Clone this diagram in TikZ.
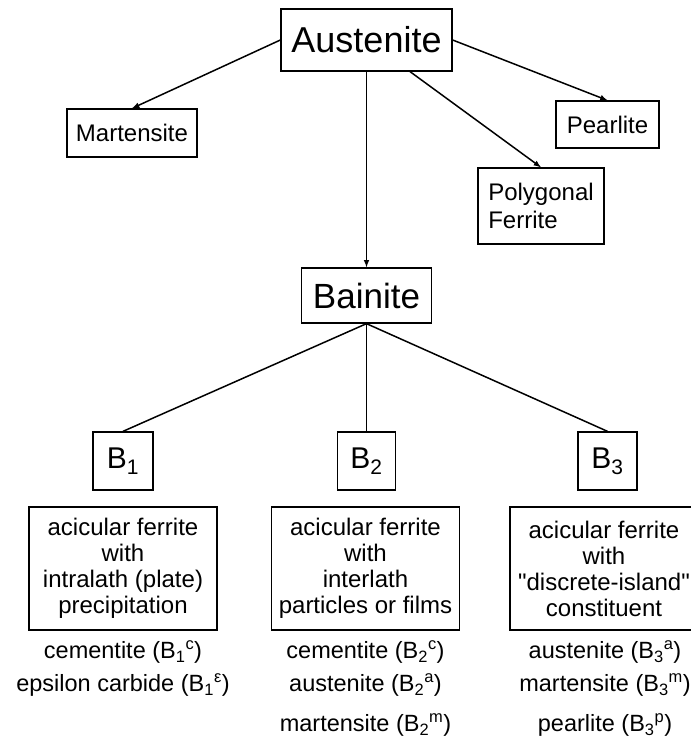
\documentclass[tikz,border=0pt]{standalone}
\usepackage{fontspec}
\setmainfont{Liberation Sans}
\newfontfamily\straightq{Liberation Sans}
\usetikzlibrary{arrows}
\newcommand{\bsub}[1]{B\textsubscript{#1}}
\newcommand{\bvar}[2]{B\textsubscript{#1}\textsuperscript{#2}}
\newcommand{\dq}{{\straightq"}}
\tikzset{
	phase/.style={draw, line width=1.3pt, inner sep=0pt, align=center},
	huge/.style={font=\fontsize{36}{40}\selectfont},
	mid/.style={font=\fontsize{24}{28}\selectfont},
	desc/.style={phase, font=\fontsize{24}{26}\selectfont, minimum width=188pt, minimum height=123pt},
	item/.style={font=\fontsize{23.5}{26}\selectfont, inner sep=0pt}
}

\begin{document}
\begin{tikzpicture}[x=1pt, y=-1pt, >=latex, line width=1.5pt]
			\useasboundingbox (0,0) rectangle (691,745);
			% top level
			\node[phase, huge, minimum width=171pt, minimum height=62pt] (aust) at (366.5,40) {Austenite};
			\node[phase, mid, minimum width=130pt, minimum height=48pt] (mart) at (132,133) {Martensite};
			\node[phase, mid, minimum width=103pt, minimum height=47pt] (pearl) at (607.5,124.5) {Pearlite};
			\node[phase, mid, align=left, minimum width=126pt, minimum height=76pt] (pf) at (541,206) {Polygonal\\Ferrite};
			\node[phase, font=\fontsize{35}{40}\selectfont, minimum width=130pt, minimum height=55pt] (bain) at (366.5,295.5) {Bainite};
			% bainite types
			\node[phase, font=\fontsize{30}{36}\selectfont, minimum width=60pt, minimum height=58pt] (b1) at (123,461) {\bsub{1}};
			\node[phase, font=\fontsize{30}{36}\selectfont, minimum width=58pt, minimum height=58pt] (b2) at (366.5,461) {\bsub{2}};
			\node[phase, font=\fontsize{30}{36}\selectfont, minimum width=59pt, minimum height=58pt] (b3) at (607.5,461) {\bsub{3}};
			\node[desc] (d1) at (123,568.5) {acicular ferrite\\with\\intralath (plate)\\precipitation};
			\node[desc] (d2) at (365.5,568.5) {acicular ferrite\\with\\interlath\\particles or films};
			\node[desc] (d3) at (604,568.5) {acicular ferrite\\with\\\dq discrete-island\dq\\constituent};
			% second phases
			\node[item] (d1c) at (123,652) {cementite (\bvar{1}{c})};
			\node[item] (d1e) at (123,685) {epsilon carbide (\bvar{1}{ε})};
			\node[item] (d2c) at (365.5,652) {cementite (\bvar{2}{c})};
			\node[item] (d2a) at (365.5,685) {austenite (\bvar{2}{a})};
			\node[item] (d2m) at (365.5,725) {martensite (\bvar{2}{m})};
			\node[item] (d3a) at (605,652) {austenite (\bvar{3}{a})};
			\node[item] (d3m) at (605,685) {martensite (\bvar{3}{m})};
			\node[item] (d3p) at (605,725) {pearlite (\bvar{3}{p})};
			\path[->]
			(aust.west) edge (mart.north)
			(aust.east) edge (pearl.north)
			(aust.-36)  edge (pf.north)
			(aust)      edge (bain);
			\path
			(bain.south) edge (b1.north)
			             edge (b2.north)
			             edge (b3.north);
		\end{tikzpicture}
\end{document}
